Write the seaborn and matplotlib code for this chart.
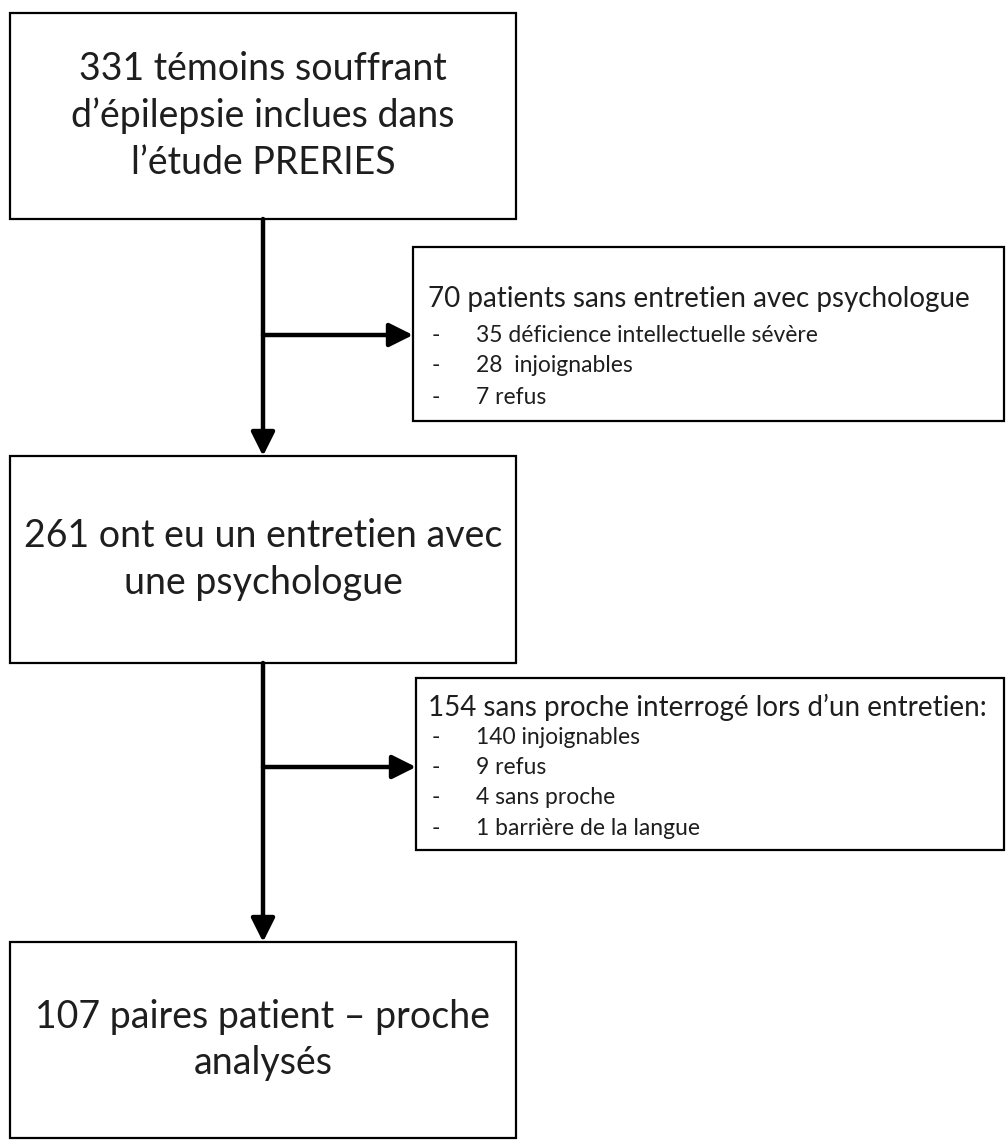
import matplotlib
matplotlib.use("Agg")
import matplotlib.pyplot as plt
from matplotlib.patches import Rectangle
import seaborn as sns

# ---- data ----
main_counts = [331, 261, 107]
main_texts = [
    "{} témoins souffrant\nd\u2019épilepsie inclues dans\nl\u2019étude PRERIES",
    "{} ont eu un entretien avec\nune psychologue",
    "{} paires patient \u2013 proche\nanalysés",
]
excl1_total = 70
excl1_title = "{} patients sans entretien avec psychologue"
excl1_counts = [35, 28, 7]
excl1_labels = ["déficience intellectuelle sévère", " injoignables", "refus"]
excl2_total = 154
excl2_title = "{} sans proche interrogé lors d\u2019un entretien:"
excl2_counts = [140, 9, 4, 1]
excl2_labels = ["injoignables", "refus", "sans proche", "barrière de la langue"]

sns.set_theme(style="white")
plt.rcParams["font.family"] = ["Lato", "DejaVu Sans"]

fig = plt.figure(figsize=(10.06, 11.4), dpi=100)
ax = fig.add_axes([0, 0, 1, 1])
ax.set_xlim(0, 1006)
ax.set_ylim(1140, 0)
ax.axis("off")

# layout (pixels)
main_boxes = [(10, 13, 516, 219), (10, 456, 516, 663), (10, 942, 516, 1138)]
side_boxes = [(413, 247, 1004, 421), (416, 678, 1004, 850)]
xc = 263
arrow_y = [335, 767]
txt_color = "#1e1e1e"

for (x0, y0, x1, y1), cnt, txt in zip(main_boxes, main_counts, main_texts):
    ax.add_patch(Rectangle((x0, y0), x1 - x0, y1 - y0, fill=False,
                           edgecolor="black", lw=1.6, zorder=3))
    ax.text(xc, (y0 + y1) / 2, txt.format(cnt), ha="center", va="center",
            fontsize=27, color=txt_color, linespacing=1.35, zorder=4)

for (x0, y0, x1, y1) in side_boxes:
    ax.add_patch(Rectangle((x0, y0), x1 - x0, y1 - y0, fill=False,
                           edgecolor="black", lw=1.6, zorder=3))

# side box 1 text
ax.text(428, 299, excl1_title.format(excl1_total), ha="left", va="center",
        fontsize=20, color=txt_color)
for i, (c, lab) in enumerate(zip(excl1_counts, excl1_labels)):
    y = 335 + i * 31
    ax.text(432, y, "-", ha="left", va="center", fontsize=16.5, color=txt_color)
    ax.text(476, y, f"{c} {lab}", ha="left", va="center", fontsize=16.5,
            color=txt_color)

# side box 2 text
ax.text(428, 707, excl2_title.format(excl2_total), ha="left", va="center",
        fontsize=20, color=txt_color)
for i, (c, lab) in enumerate(zip(excl2_counts, excl2_labels)):
    y = 737 + i * 30.5
    ax.text(432, y, "-", ha="left", va="center", fontsize=16.5, color=txt_color)
    ax.text(476, y, f"{c} {lab}", ha="left", va="center", fontsize=16.5,
            color=txt_color)

# arrows
aprops = dict(arrowstyle="-|>,head_length=0.9,head_width=0.45", color="black",
              lw=3.2, shrinkA=0, shrinkB=0, mutation_scale=16)
for i in range(2):
    top = main_boxes[i][3]
    bot = main_boxes[i + 1][1]
    ax.annotate("", xy=(xc, bot), xytext=(xc, top), arrowprops=aprops, zorder=5)
    ax.annotate("", xy=(side_boxes[i][0], arrow_y[i]), xytext=(xc, arrow_y[i]),
                arrowprops=aprops, zorder=5)

fig.savefig("out.png", dpi=100, facecolor="white")
